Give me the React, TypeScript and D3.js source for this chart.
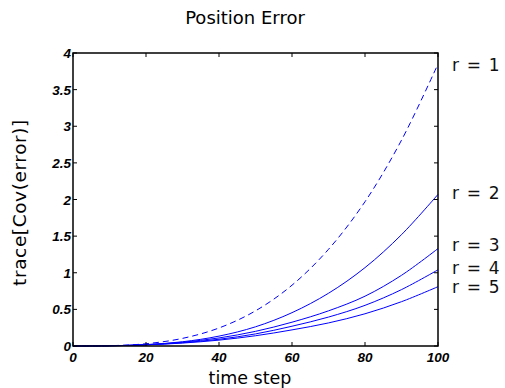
import React from "react";
import * as d3 from "d3";

// time steps sampled every 10
const steps = [0, 10, 20, 30, 40, 50, 60, 70, 80, 90, 100];
const r1 = [0, 0.004, 0.031, 0.104, 0.246, 0.48, 0.83, 1.32, 1.97, 2.81, 3.85];
const r2 = [0, 0.003, 0.018, 0.058, 0.135, 0.262, 0.455, 0.72, 1.07, 1.52, 2.07];
const r3 = [0, 0.003, 0.018, 0.052, 0.11, 0.2, 0.325, 0.48, 0.68, 0.965, 1.33];
const r4 = [0, 0.003, 0.016, 0.045, 0.092, 0.165, 0.27, 0.395, 0.555, 0.77, 1.04];
const r5 = [0, 0.003, 0.015, 0.04, 0.08, 0.14, 0.22, 0.315, 0.44, 0.605, 0.81];
const seriesNames = ["r = 1", "r = 2", "r = 3", "r = 4", "r = 5"];
const xTicks = [0, 20, 40, 60, 80, 100];
const yTicks = [0, 0.5, 1, 1.5, 2, 2.5, 3, 3.5, 4];

const W = 505, H = 388;
const margin = { top: 53, right: 67, bottom: 42, left: 73 };
// small vertical nudges so the end labels don't collide
const labelNudge = [2, 0, -3, -1, 1];

export default function App() {
  const innerW = W - margin.left - margin.right;
  const innerH = H - margin.top - margin.bottom;
  const x = d3.scaleLinear().domain([0, 100]).range([margin.left, margin.left + innerW]);
  const y = d3.scaleLinear().domain([0, 4]).range([margin.top + innerH, margin.top]);

  const series = [r1, r2, r3, r4, r5];
  const line = d3.line<number>()
    .x((d, i) => x(steps[i]))
    .y(d => y(d))
    .curve(d3.curveCatmullRom.alpha(0.5));

  const tickFont = "'Liberation Sans', Arial, sans-serif";
  const textFont = "'DejaVu Sans', sans-serif";
  const bottom = margin.top + innerH;
  const right = margin.left + innerW;

  return (
    <svg width={W} height={H} style={{ position: "absolute", left: 0, top: 0 }}>
      <rect x={0} y={0} width={W} height={H} fill="#fff" />
      <text x={245} y={24} textAnchor="middle" fontFamily={textFont} fontSize={18}>
        Position Error
      </text>

      {series.map((s, i) => (
        <path key={i} d={line(s) || ""} fill="none" stroke="#0000ff" strokeWidth={1}
          strokeDasharray={i === 0 ? "6,4" : undefined} />
      ))}

      <rect x={margin.left} y={margin.top} width={innerW} height={innerH}
        fill="none" stroke="#000" strokeWidth={1.5} />

      {xTicks.map(t => (
        <g key={"x" + t}>
          <line x1={x(t)} x2={x(t)} y1={bottom} y2={bottom - 4} stroke="#000" />
          <line x1={x(t)} x2={x(t)} y1={margin.top} y2={margin.top + 4} stroke="#000" />
          <text x={x(t)} y={bottom + 16} textAnchor="middle" fontFamily={tickFont}
            fontWeight="bold" fontStyle="italic" fontSize={13.5}>{t}</text>
        </g>
      ))}
      {yTicks.map(t => (
        <g key={"y" + t}>
          <line x1={margin.left} x2={margin.left + 4} y1={y(t)} y2={y(t)} stroke="#000" />
          <line x1={right} x2={right - 4} y1={y(t)} y2={y(t)} stroke="#000" />
          <text x={margin.left - 2} y={y(t) + 5} textAnchor="end" fontFamily={tickFont}
            fontWeight="bold" fontStyle="italic" fontSize={13.5}>{t}</text>
        </g>
      ))}

      {series.map((s, i) => (
        <text key={"l" + i} x={452} y={y(s[s.length - 1]) + labelNudge[i]} dominantBaseline="middle"
          fontFamily={textFont} fontSize={17} letterSpacing={1.2} fill="#111">{seriesNames[i]}</text>
      ))}

      <text x={250} y={384} textAnchor="middle" fontFamily={textFont} fontSize={17.5}>time step</text>
      <text transform={`translate(26, ${margin.top + innerH / 2 + 3}) rotate(-90)`} textAnchor="middle"
        fontFamily={textFont} fontSize={18.5} letterSpacing={0.6}>trace[Cov(error)]</text>
    </svg>
  );
}
